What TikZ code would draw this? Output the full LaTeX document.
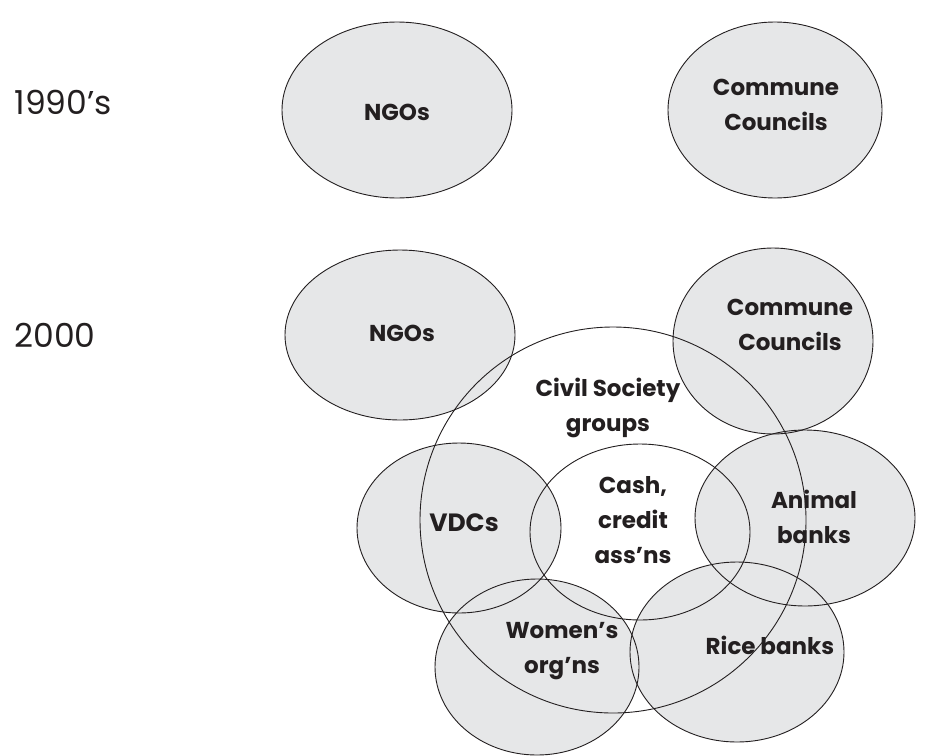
\documentclass[tikz,border=0pt]{standalone}
\usepackage{fontspec}
\setmainfont{Poppins}
\usetikzlibrary{shapes.geometric}
\definecolor{blobgray}{RGB}{230,231,232}
\definecolor{ink}{RGB}{35,31,32}
\tikzset{
  blobfill/.style={ellipse, fill=blobgray, draw=none, inner sep=0pt, outer sep=0pt},
  blobline/.style={ellipse, draw=ink, line width=0.9pt, inner sep=0pt, outer sep=0pt},
  yearlabel/.style={anchor=west, text=ink, font=\fontsize{33}{40}\selectfont},
  setlabel/.style={align=center, text=ink, font=\bfseries\fontsize{23}{35}\selectfont}
}
% name / centre x / centre y / x radius / y radius
\def\filledsets{ngoA/397/110/115/88, ccA/775/110/107/88,
  ngoB/400/335/115/85, ccB/773/341/100/93,
  vdc/459/528/102/85, animal/805/518/110/88,
  women/537/667/102/88, rice/737/652/107/90}
\def\opensets{civil/613/520/193/193, cash/640/532/110/88}
\begin{document}
\begin{tikzpicture}[x=1pt,y=-1pt]
  \path[use as bounding box, fill=white] (0,0) rectangle (936,755);
  % fills first, so every outline stays visible through overlaps
  \foreach \n/\x/\y/\a/\b in \filledsets {
    \node[blobfill, minimum width=2*\a, minimum height=2*\b] (\n) at (\x,\y) {};
  }
  \foreach \n/\x/\y/\a/\b in \filledsets {
    \node[blobline, minimum width=2*\a, minimum height=2*\b] (\n-edge) at (\x,\y) {};
  }
  \foreach \n/\x/\y/\a/\b in \opensets {
    \node[blobline, minimum width=2*\a, minimum height=2*\b] (\n) at (\x,\y) {};
  }
  % period labels
  \node[yearlabel] (y1990) at (11,102) {1990’s};
  \node[yearlabel] (y2000) at (11,335) {2000};
  % set labels
  \node[setlabel] (ngoAtxt) at (397,112) {NGOs};
  \node[setlabel] (ccAtxt) at (776,105) {Commune\\Councils};
  \node[setlabel] (ngoBtxt) at (402,333) {NGOs};
  \node[setlabel] (ccBtxt) at (790,325) {Commune\\Councils};
  \node[setlabel] (civiltxt) at (608,408) {Civil Society\\groups};
  \node[setlabel, font=\bfseries\fontsize{25}{35}\selectfont] (vdctxt) at (464,523) {VDCs};
  \node[setlabel] (cashtxt) at (633,520) {Cash,\\credit\\ass’ns};
  \node[setlabel] (animaltxt) at (814,517) {Animal\\banks};
  \node[setlabel] (womentxt) at (562,651) {Women’s\\org’ns};
  \node[setlabel] (ricetxt) at (770,645) {Rice banks};
\end{tikzpicture}
\end{document}
